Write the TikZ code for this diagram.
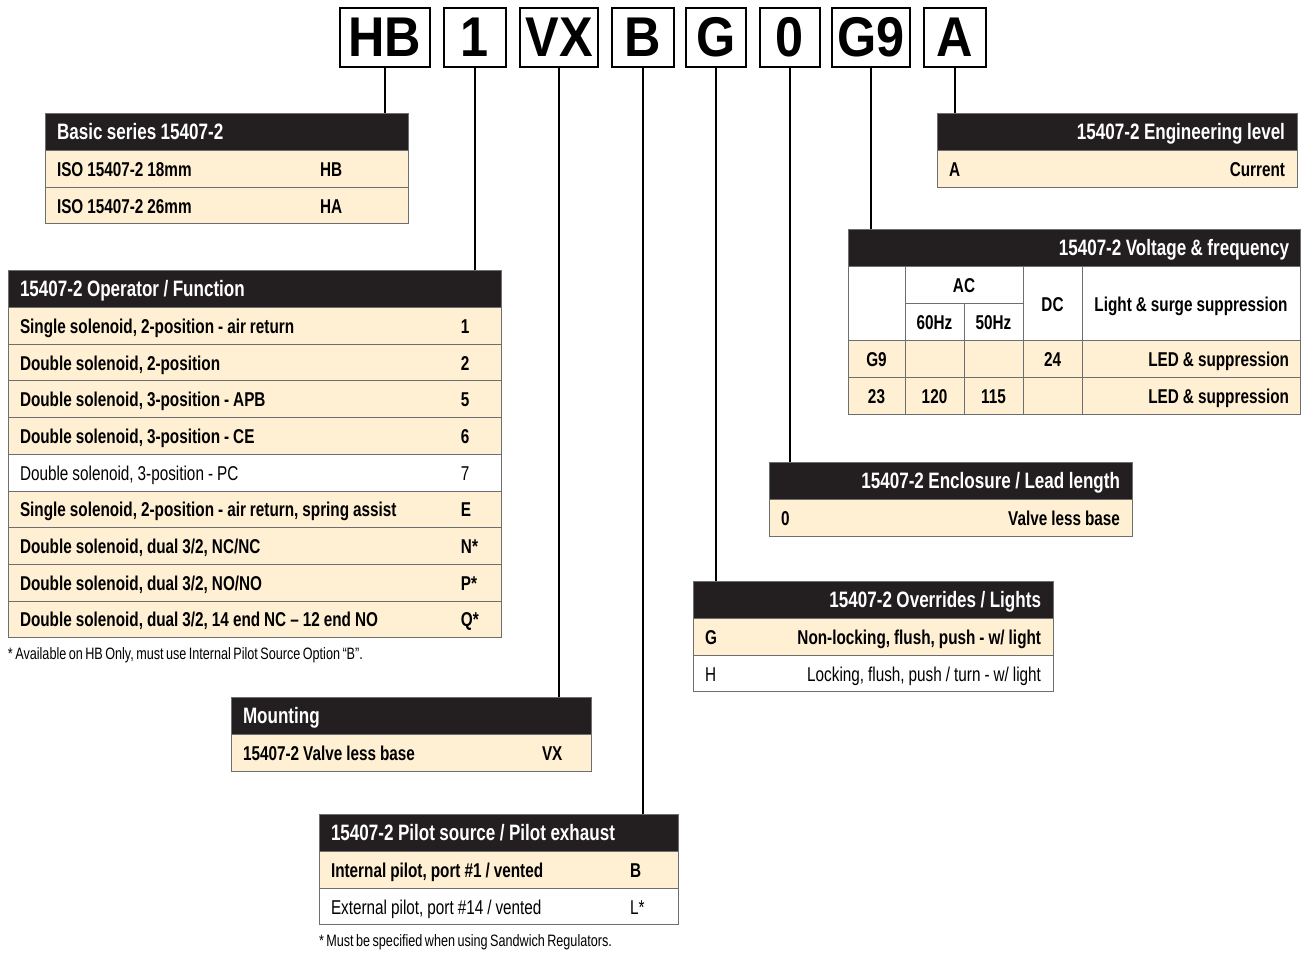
\documentclass[tikz,border=0pt]{standalone}
\usepackage{fontspec}
\setmainfont{Liberation Sans}
\newfontfamily\condfont{Liberation Sans}[FakeStretch=0.765, WordSpace=0.7]
\newfontfamily\codefont{Liberation Sans}[FakeStretch=0.9]
\usepackage{xcolor}
\usepackage{tikz}
\usetikzlibrary{positioning}
\definecolor{hdr}{HTML}{231F20}
\definecolor{cream}{HTML}{FFF0D4}
\definecolor{edge}{HTML}{6D6E70}
\newcommand\tightspace{\spaceskip=0.2em plus 0.05em minus 0.02em\relax}

\begin{document}
\begin{tikzpicture}[
    x=1pt, y=-1pt,
    node distance=0pt and 0pt,
    every node/.style={outer sep=0pt},
    codebox/.style={draw=black, line width=2pt, minimum height=59pt,
                    inner sep=0pt, font=\codefont\bfseries\fontsize{56}{60}\selectfont},
    head/.style={fill=hdr, draw=edge, line width=1pt, text=white,
                 minimum height=37.5pt, inner xsep=12pt, inner ysep=0pt,
                 text height=16pt, text depth=0pt,
                 font=\condfont\bfseries\fontsize{22.3}{24}\selectfont,
                 execute at begin node=\tightspace},
    row/.style={fill=cream, draw=edge, line width=1pt,
                minimum height=36.7pt, inner xsep=12pt, inner ysep=0pt,
                text height=15pt, text depth=0pt,
                font=\condfont\bfseries\fontsize{20}{24}\selectfont,
                execute at begin node=\tightspace},
    rowplain/.style={row, fill=white, font=\condfont\fontsize{20}{24}\selectfont},
    vcell/.style={draw=edge, line width=1pt, anchor=north west, inner sep=0pt,
                  minimum height=37pt, text height=15pt, text depth=0pt,
                  font=\condfont\bfseries\fontsize{20}{24}\selectfont,
                  execute at begin node=\tightspace},
    lead/.style={line width=2pt, black},
    note/.style={font=\condfont\fontsize{16.5}{18}\selectfont, anchor=west, inner sep=0pt},
]
\useasboundingbox (0,0) rectangle (1302,953);

% Part number boxes
\node[codebox, minimum width=90pt] (cHB) at (385,37.5) {HB};
\node[codebox, minimum width=62pt, right=14pt of cHB] (c1) {1};
\node[codebox, minimum width=78pt, right=14pt of c1] (cVX) {VX};
\node[codebox, minimum width=62pt, right=14pt of cVX] (cB) {B};
\node[codebox, minimum width=60pt, right=12pt of cB] (cG) {G};
\node[codebox, minimum width=60pt, right=14pt of cG] (c0) {0};
\node[codebox, minimum width=78pt, right=12pt of c0] (cG9) {G9};
\node[codebox, minimum width=62pt, right=14pt of cG9] (cA) {A};

% Basic series
\node[head, text width=339pt, align=flush left, anchor=north west] (basic) at (45,113) {Basic series 15407-2};
\node[row, text width=339pt, below=of basic] (basic1) {ISO 15407-2 18mm\hfill\makebox[76pt][l]{HB}};
\node[row, text width=339pt, below=of basic1] (basic2) {ISO 15407-2 26mm\hfill\makebox[76pt][l]{HA}};

% Operator / Function
\node[head, text width=469pt, align=flush left, anchor=north west] (oper) at (8,270) {15407-2 Operator / Function};
\node[row, text width=469pt, below=of oper] (oper1) {Single solenoid, 2-position - air return\hfill\makebox[28pt][l]{1}};
\node[row, text width=469pt, below=of oper1] (oper2) {Double solenoid, 2-position\hfill\makebox[28pt][l]{2}};
\node[row, text width=469pt, below=of oper2] (oper3) {Double solenoid, 3-position - APB\hfill\makebox[28pt][l]{5}};
\node[row, text width=469pt, below=of oper3] (oper4) {Double solenoid, 3-position - CE\hfill\makebox[28pt][l]{6}};
\node[rowplain, text width=469pt, below=of oper4] (oper5) {Double solenoid, 3-position - PC\hfill\makebox[28pt][l]{7}};
\node[row, text width=469pt, below=of oper5] (oper6) {Single solenoid, 2-position - air return, spring assist\hfill\makebox[28pt][l]{E}};
\node[row, text width=469pt, below=of oper6] (oper7) {Double solenoid, dual 3/2, NC/NC\hfill\makebox[28pt][l]{N*}};
\node[row, text width=469pt, below=of oper7] (oper8) {Double solenoid, dual 3/2, NO/NO\hfill\makebox[28pt][l]{P*}};
\node[row, text width=469pt, below=of oper8] (oper9) {Double solenoid, dual 3/2, 14 end NC – 12 end NO\hfill\makebox[28pt][l]{Q*}};
\node[note] (operNote) at (8,655) {* Available on HB Only, must use Internal Pilot Source Option “B”.};

% Mounting
\node[head, text width=336pt, align=flush left, anchor=north west] (mount) at (231,697) {Mounting};
\node[row, text width=336pt, below=of mount] (mount1) {15407-2 Valve less base\hfill\makebox[37pt][l]{VX}};

% Pilot source / exhaust
\node[head, text width=335pt, align=flush left, anchor=north west] (pilot) at (319,814) {15407-2 Pilot source / Pilot exhaust};
\node[row, text width=335pt, below=of pilot] (pilot1) {Internal pilot, port \#1 / vented\hfill\makebox[36pt][l]{B}};
\node[rowplain, text width=335pt, below=of pilot1] (pilot2) {External pilot, port \#14 / vented\hfill\makebox[36pt][l]{L*}};
\node[note] (pilotNote) at (319,942) {* Must be specified when using Sandwich Regulators.};

% Overrides / Lights
\node[head, text width=336pt, align=flush right, anchor=north west] (over) at (693,581) {15407-2 Overrides / Lights};
\node[row, text width=336pt, below=of over] (over1) {G\hfill Non-locking, flush, push - w/ light};
\node[rowplain, text width=336pt, below=of over1] (over2) {H\hfill Locking, flush, push / turn - w/ light};

% Enclosure / Lead length
\node[head, text width=339pt, align=flush right, anchor=north west] (encl) at (769,462) {15407-2 Enclosure / Lead length};
\node[row, text width=339pt, below=of encl] (encl1) {0\hfill Valve less base};

% Engineering level
\node[head, text width=336pt, align=flush right, anchor=north west] (eng) at (937,113) {15407-2 Engineering level};
\node[row, text width=336pt, below=of eng] (eng1) {A\hfill Current};

% Voltage & frequency
\node[head, text width=430pt, inner xsep=11pt, align=flush right, anchor=north west] (volt) at (848,229) {15407-2 Voltage \& frequency};
\node[vcell, fill=white, minimum width=57pt, minimum height=74pt] (vBlank) at (volt.south west) {};
\node[vcell, fill=white, minimum width=118pt] (vAC) at (vBlank.north east) {AC};
\node[vcell, fill=white, minimum width=59pt] (v60) at (vAC.south west) {60Hz};
\node[vcell, fill=white, minimum width=59pt] (v50) at (v60.north east) {50Hz};
\node[vcell, fill=white, minimum width=59pt, minimum height=74pt] (vDC) at (vAC.north east) {DC};
\node[vcell, fill=white, minimum width=218pt, minimum height=74pt] (vLight) at (vDC.north east) {Light \& surge suppression};
% data rows
\node[vcell, fill=cream, minimum width=57pt] (vG9) at (vBlank.south west) {G9};
\node[vcell, fill=cream, minimum width=59pt] (vG9a) at (vG9.north east) {};
\node[vcell, fill=cream, minimum width=59pt] (vG9b) at (vG9a.north east) {};
\node[vcell, fill=cream, minimum width=59pt] (vG9c) at (vG9b.north east) {24};
\node[vcell, fill=cream, text width=196pt, inner xsep=11pt, align=flush right] (vG9d) at (vG9c.north east) {LED \& suppression};
\node[vcell, fill=cream, minimum width=57pt] (v23) at (vG9.south west) {23};
\node[vcell, fill=cream, minimum width=59pt] (v23a) at (v23.north east) {120};
\node[vcell, fill=cream, minimum width=59pt] (v23b) at (v23a.north east) {115};
\node[vcell, fill=cream, minimum width=59pt] (v23c) at (v23b.north east) {};
\node[vcell, fill=cream, text width=196pt, inner xsep=11pt, align=flush right] (v23d) at (v23c.north east) {LED \& suppression};

% Leads
\draw[lead] (cHB.south) -- (cHB.south |- basic.north);
\draw[lead] (c1.south) -- (c1.south |- oper.north);
\draw[lead] (cVX.south) -- (cVX.south |- mount.north);
\draw[lead] (cB.south) -- (cB.south |- pilot.north);
\draw[lead] (cG.south) -- (cG.south |- over.north);
\draw[lead] (c0.south) -- (c0.south |- encl.north);
\draw[lead] (cG9.south) -- (cG9.south |- volt.north);
\draw[lead] (cA.south) -- (cA.south |- eng.north);

\end{tikzpicture}
\end{document}
